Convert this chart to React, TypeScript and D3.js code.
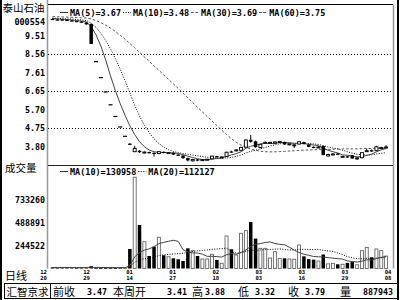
import React from "react";
import * as d3 from "d3";

// ---------- data ----------
const opens = [10.38, 10.35, 10.35, 10.33, 10.30, 10.27, 10.24, 10.19, 10.12, 8.18, 7.36, 6.62, 5.96, 5.36, 4.82, 4.34, 3.96, 3.55, 3.60, 3.50, 3.53, 3.49, 3.45, 3.54, 3.47, 3.49, 3.40, 3.35, 3.22, 3.08, 3.15, 3.10, 3.12, 3.18, 3.32, 3.26, 3.30, 3.56, 3.60, 3.62, 3.78, 4.16, 4.08, 3.76, 4.00, 4.01, 3.99, 4.02, 4.05, 3.90, 3.89, 3.94, 4.04, 3.91, 3.80, 3.76, 3.84, 3.33, 3.40, 3.45, 3.30, 3.31, 3.36, 3.22, 3.24, 3.58, 3.62, 3.60, 3.74, 3.75];
const highs = [10.40, 10.37, 10.36, 10.35, 10.32, 10.29, 10.26, 10.21, 10.14, 8.18, 7.36, 6.62, 5.96, 5.36, 4.82, 4.34, 3.99, 3.85, 3.62, 3.56, 3.55, 3.51, 3.58, 3.56, 3.52, 3.51, 3.42, 3.36, 3.24, 3.18, 3.17, 3.16, 3.18, 3.34, 3.33, 3.30, 3.55, 3.60, 3.67, 3.80, 4.18, 4.41, 4.12, 3.96, 4.07, 4.05, 4.07, 4.10, 4.06, 3.98, 3.93, 4.08, 4.06, 3.92, 3.82, 3.83, 3.86, 3.44, 3.47, 3.47, 3.34, 3.32, 3.38, 3.25, 3.53, 3.70, 3.66, 3.85, 3.80, 3.88];
const lows = [10.34, 10.32, 10.31, 10.28, 10.26, 10.22, 10.18, 10.08, 9.09, 8.18, 7.36, 6.62, 5.96, 5.36, 4.82, 4.34, 3.91, 3.52, 3.49, 3.47, 3.46, 3.30, 3.42, 3.46, 3.44, 3.38, 3.33, 3.18, 3.05, 3.04, 3.06, 3.08, 3.10, 3.16, 3.24, 3.24, 3.28, 3.50, 3.57, 3.60, 3.76, 4.02, 3.75, 3.72, 3.97, 3.98, 3.97, 3.98, 3.90, 3.88, 3.74, 3.92, 3.93, 3.78, 3.72, 3.74, 3.36, 3.30, 3.37, 3.39, 3.27, 3.24, 3.18, 3.12, 3.20, 3.55, 3.54, 3.58, 3.68, 3.72];
const closes = [10.36, 10.34, 10.33, 10.30, 10.28, 10.24, 10.20, 10.10, 9.09, 8.18, 7.36, 6.62, 5.96, 5.36, 4.82, 4.34, 3.91, 3.72, 3.52, 3.53, 3.49, 3.47, 3.55, 3.49, 3.50, 3.40, 3.36, 3.22, 3.10, 3.15, 3.10, 3.14, 3.16, 3.32, 3.26, 3.28, 3.52, 3.53, 3.64, 3.77, 4.15, 4.06, 3.78, 3.93, 4.03, 4.03, 4.05, 4.08, 3.92, 3.95, 3.90, 4.06, 3.95, 3.80, 3.74, 3.79, 3.38, 3.40, 3.43, 3.41, 3.31, 3.26, 3.20, 3.23, 3.50, 3.60, 3.58, 3.80, 3.76, 3.79];
const volumes = [12000, 8000, 15000, 9000, 11000, 7000, 13000, 10000, 25000, 6000, 5000, 4000, 6000, 5000, 7000, 9000, 209000, 977000, 466000, 287000, 134000, 234000, 334000, 141000, 126000, 109000, 99000, 80000, 216000, 191000, 134000, 102000, 102000, 152000, 91000, 56000, 348000, 206000, 145000, 377000, 405000, 498000, 320000, 216000, 216000, 112000, 180000, 109000, 109000, 102000, 99000, 252000, 130000, 100000, 95000, 80000, 150000, 50000, 55000, 45000, 45000, 60000, 70000, 40000, 191000, 226000, 120000, 209000, 191000, 133000];
const priorCloses = [10.62, 10.60, 10.58, 10.61, 10.59, 10.57, 10.55, 10.56, 10.54, 10.52, 10.55, 10.53, 10.51, 10.50, 10.52, 10.49, 10.48, 10.50, 10.47, 10.46, 10.45, 10.47, 10.44, 10.43, 10.42, 10.44, 10.41, 10.40, 10.39];
const priorVolumes = [11000, 9000, 12000, 10000, 8000, 13000, 9000, 11000, 10000, 12000, 9000, 10000, 11000, 8000, 12000, 10000, 9000, 11000, 10000];

const priceTicks = [9.51, 8.56, 7.61, 6.65, 5.70, 4.75, 3.80];
const priceGrid = [8.56, 6.65, 4.75];
const volTicks = [733260, 488891, 244522];
const dateLabels = [["12", "20"], ["12", "29"], ["01", "14"], ["01", "27"], ["02", "18"], ["03", "03"], ["03", "16"], ["03", "29"], ["04", "08"]];
const priceLegend = ["MA(5)=3.67", "MA(10)=3.48", "MA(30)=3.69", "MA(60)=3.75"];
const volLegend = ["MA(10)=130958", "MA(20)=112127"];
const statusLabels = ["前收", "本周开", "高", "低", "收", "量"];
const statusValues = ["3.47", "3.41", "3.88", "3.32", "3.79", "887943"];
const stockName = "泰山石油";
const stockCode = "000554";

// ---------- helpers ----------
function movingAvg(prior: number[], vals: number[], n: number): (number | null)[] {
  const all = prior.concat(vals);
  return vals.map((_, i) => {
    const idx = i + prior.length;
    if (idx - n + 1 < 0) return null;
    return d3.mean(all.slice(idx - n + 1, idx + 1)) as number;
  });
}

const MONO = "'DejaVu Sans Mono', monospace";
const CJK = "'Noto Sans CJK SC', sans-serif";
const CW = 5.1;

export default function App() {
  const left = 48, right = 393;
  const mainTop = 4.5, sep = 165.5, volBottom = 268.5;

  const x = d3.scaleLinear().domain([0, closes.length - 1]).range([52.5, 386.1]);
  const y = d3.scaleLinear().domain([3.80, 9.51]).range([146.8, 35.8]);
  const yv = d3.scaleLinear().domain([0, 733260]).range([volBottom, 200]);
  const xd = d3.scalePoint<number>().domain(dateLabels.map((_, i) => i)).range([43.5, 388]);

  const ma5 = movingAvg(priorCloses, closes, 5);
  const ma10 = movingAvg(priorCloses, closes, 10);
  const ma30 = movingAvg(priorCloses, closes, 30);
  const vma10 = movingAvg(priorVolumes, volumes, 10);
  const vma20 = movingAvg(priorVolumes, volumes, 20);

  const pLine = d3.line<number | null>()
    .defined((d) => d !== null)
    .x((_, i) => x(i))
    .y((d) => y(d as number));
  const vLine = d3.line<number | null>()
    .defined((d) => d !== null)
    .x((_, i) => x(i))
    .y((d) => yv(d as number));

  const bw = 3.5;

  const priceMarkers = [
    { dash: undefined, color: "#333" },
    { dash: "1,1.5", color: "#000" },
    { dash: "2.5,2", color: "#555" },
    { dash: "3,1", color: "#555" },
  ];
  const volMarkers = [
    { dash: undefined, color: "#333" },
    { dash: "1,1.5", color: "#000" },
  ];

  const legendLayout = (labels: string[]) => {
    let cx = 60;
    return labels.map((t) => {
      const item = { mx: cx, tx: cx + 10, w: t.length * CW, t };
      cx = item.tx + item.w + 2;
      return item;
    });
  };
  const pl = legendLayout(priceLegend);
  const vl = legendLayout(volLegend);

  const statusLabelX = [53, 113, 192, 238, 288, 340];
  const statusValueRight = [107, 187, 225, 275, 325, 393];

  return (
    <svg width={400} height={300} style={{ display: "block", position: "absolute", left: 0, top: 0, background: "#fff" }}>
      <defs>
        <clipPath id="mainClip">
          <rect x={left} y={mainTop + 0.5} width={right - left} height={sep - mainTop - 1} />
        </clipPath>
        <clipPath id="volClip">
          <rect x={left} y={sep + 0.5} width={right - left} height={volBottom - sep + 1} />
        </clipPath>
      </defs>
      <rect x={0} y={0} width={400} height={300} fill="#fff" />

      {/* frames */}
      <line x1={1} x2={1} y1={0} y2={300} stroke="#000" strokeWidth={2} />
      <line x1={398} x2={398} y1={0} y2={300} stroke="#000" strokeWidth={2} />
      <line x1={47.5} x2={47.5} y1={0} y2={volBottom} stroke="#999" strokeWidth={1.5} />
      <line x1={393.5} x2={393.5} y1={mainTop} y2={volBottom} stroke="#999" strokeWidth={1.5} />
      <line x1={left} x2={right} y1={mainTop} y2={mainTop} stroke="#000" strokeWidth={1} />
      <line x1={left} x2={right} y1={sep} y2={sep} stroke="#222" strokeWidth={1} />

      {/* grid */}
      {priceGrid.map((v) => {
        const yy = Math.round(y(v)) + 0.5;
        return <line key={v} x1={left} x2={right} y1={yy} y2={yy} stroke="#000" strokeWidth={1} strokeDasharray="1,2" />;
      })}

      {/* left labels */}
      <text x={2.5} y={11.5} fontFamily={CJK} fontSize={10.5} fill="#000">{stockName}</text>
      <text x={45} y={24.5} fontFamily={MONO} fontSize={8.3} fontWeight="bold" textAnchor="end" textLength={stockCode.length * CW} lengthAdjust="spacingAndGlyphs">{stockCode}</text>
      {priceTicks.map((v) => (
        <text key={v} x={45} y={y(v) + 3} fontFamily={MONO} fontSize={8.3} fontWeight="bold" textAnchor="end">{v.toFixed(2)}</text>
      ))}
      <text x={5} y={172} fontFamily={CJK} fontSize={10.5} fill="#000">成交量</text>
      {volTicks.map((v) => (
        <text key={v} x={45} y={yv(v) + 3} fontFamily={MONO} fontSize={8.3} fontWeight="bold" textAnchor="end">{v}</text>
      ))}

      {/* price legend */}
      {pl.map((it, i) => (
        <g key={it.t}>
          <line x1={it.mx} x2={it.mx + 8} y1={12.5} y2={12.5} stroke={priceMarkers[i].color} strokeWidth={1} strokeDasharray={priceMarkers[i].dash} />
          <text x={it.tx} y={15.5} fontFamily={MONO} fontSize={8.3} fontWeight="bold" textLength={it.w} lengthAdjust="spacingAndGlyphs">{it.t}</text>
        </g>
      ))}
      {/* volume legend */}
      {vl.map((it, i) => (
        <g key={it.t}>
          <line x1={it.mx} x2={it.mx + 8} y1={171.5} y2={171.5} stroke={volMarkers[i].color} strokeWidth={1} strokeDasharray={volMarkers[i].dash} />
          <text x={it.tx} y={174.5} fontFamily={MONO} fontSize={8.3} fontWeight="bold" textLength={it.w} lengthAdjust="spacingAndGlyphs">{it.t}</text>
        </g>
      ))}

      {/* candles */}
      <g clipPath="url(#mainClip)">
        <path d={pLine(ma30) || ""} fill="none" stroke="#555" strokeWidth={1} strokeDasharray="2.5,2" />
        <path d={pLine(ma10) || ""} fill="none" stroke="#000" strokeWidth={1} strokeDasharray="1,1.5" />
        <path d={pLine(ma5) || ""} fill="none" stroke="#444" strokeWidth={1} />
        {closes.map((c, i) => {
          const o = opens[i], h = highs[i], l = lows[i];
          const cx = x(i);
          const up = c > o;
          const flat = Math.abs(c - o) < 0.005;
          const top = y(Math.max(o, c)), bot = y(Math.min(o, c));
          return (
            <g key={i}>
              {h !== l && <line x1={cx} x2={cx} y1={y(h)} y2={y(l)} stroke="#000" strokeWidth={1} />}
              {flat ? (
                <line x1={cx - 2} x2={cx + 2} y1={top} y2={top} stroke="#000" strokeWidth={1.2} />
              ) : up ? (
                <rect x={cx - 1.5} y={top} width={3} height={Math.max(bot - top, 1)} fill="#fff" stroke="#000" strokeWidth={0.9} />
              ) : (
                <rect x={cx - bw / 2} y={top} width={bw} height={Math.max(bot - top, 1.2)} fill="#000" />
              )}
            </g>
          );
        })}
      </g>

      {/* volume */}
      <g clipPath="url(#volClip)">
        {volumes.map((v, i) => {
          const cx = x(i);
          const up = closes[i] > opens[i];
          const top = yv(v);
          const hgt = Math.max(volBottom - top, 0.8);
          return up ? (
            <rect key={i} x={cx - 1.5} y={top} width={3} height={hgt} fill="#fff" stroke="#666" strokeWidth={0.9} />
          ) : (
            <rect key={i} x={cx - bw / 2} y={top} width={bw} height={hgt} fill="#000" />
          );
        })}
        <path d={vLine(vma20) || ""} fill="none" stroke="#000" strokeWidth={1} strokeDasharray="1,1.5" />
        <path d={vLine(vma10) || ""} fill="none" stroke="#444" strokeWidth={1} />
      </g>

      {/* dates */}
      <text x={5} y={280} fontFamily={CJK} fontSize={11} fill="#000">日线</text>
      {dateLabels.map((d, i) => (
        <g key={i}>
          <text x={xd(i)} y={273.5} fontFamily={MONO} fontSize={5.6} fontWeight="bold" textAnchor="middle">{d[0]}</text>
          <text x={xd(i)} y={280.2} fontFamily={MONO} fontSize={5.6} fontWeight="bold" textAnchor="middle">{d[1]}</text>
        </g>
      ))}

      {/* status bar */}
      <rect x={4.5} y={283.5} width={393} height={15} fill="none" stroke="#000" strokeWidth={1} />
      <line x1={50.5} x2={50.5} y1={283.5} y2={298.5} stroke="#000" strokeWidth={1} />
      <text x={6.5} y={295.5} fontFamily={CJK} fontSize={10.5} fill="#000">汇智京求</text>
      {statusLabels.map((t, i) => (
        <text key={t} x={statusLabelX[i]} y={295.5} fontFamily={CJK} fontSize={11} fill="#000">{t}</text>
      ))}
      {statusValues.map((t, i) => (
        <text key={i} x={statusValueRight[i]} y={294.5} fontFamily={MONO} fontSize={8.3} fontWeight="bold" textAnchor="end">{t}</text>
      ))}
    </svg>
  );
}
